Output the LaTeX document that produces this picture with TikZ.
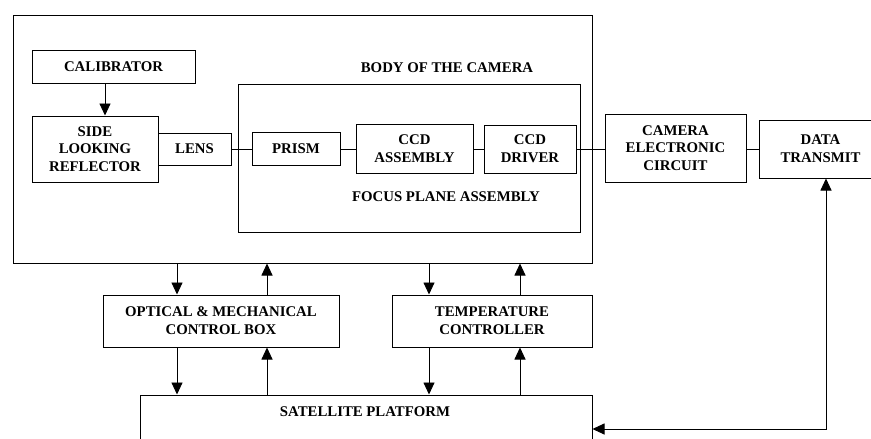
\documentclass[tikz,border=0pt]{standalone}
\usepackage{fontspec}
\setmainfont{Liberation Serif}
\usetikzlibrary{arrows.meta}
\begin{document}
\begin{tikzpicture}[x=1pt,y=-1pt,
  box/.style={draw,line width=1pt,rectangle,inner sep=0pt,align=center,
    font=\bfseries\fontsize{14.8}{17.8}\selectfont},
  lbl/.style={inner sep=0pt,font=\bfseries\fontsize{14.8}{17.8}\selectfont},
  conn/.style={line width=0.9pt},
  arr/.style={line width=0.9pt,-{Triangle[length=12pt,width=11pt]}},
  darr/.style={line width=0.9pt,{Triangle[length=12pt,width=11pt]}-{Triangle[length=12pt,width=11pt]}}]
\useasboundingbox (0,0) rectangle (871,439);
\clip (0,0) rectangle (871,439);
% outer boxes
\node[box,minimum width=579pt,minimum height=248pt] (body) at (302.5,139) {};
\node[lbl] (bodylbl) at (447,68) {BODY OF THE CAMERA};
\node[box,minimum width=342pt,minimum height=148pt] (focus) at (409,158) {};
\node[lbl] (focuslbl) at (446,197) {FOCUS PLANE ASSEMBLY};
% inner boxes
\node[box,minimum width=163pt,minimum height=33pt] (calib) at (113.5,66.5) {CALIBRATOR};
\node[box,minimum width=126pt,minimum height=66pt] (slr) at (95,149) {SIDE\\LOOKING\\REFLECTOR};
\node[box,minimum width=73pt,minimum height=32pt] (lens) at (194.5,149) {LENS};
\node[box,minimum width=88pt,minimum height=33pt] (prism) at (296,149) {PRISM};
\node[box,minimum width=117pt,minimum height=49pt] (ccda) at (414.5,149) {CCD\\ASSEMBLY};
\node[box,minimum width=92pt,minimum height=48pt] (ccdd) at (530,149) {CCD\\DRIVER};
\node[box,minimum width=141pt,minimum height=68pt] (cec) at (675.5,148) {CAMERA\\ELECTRONIC\\CIRCUIT};
\node[box,minimum width=122pt,minimum height=58pt,text width=112pt,anchor=west] (dt) at (759,149) {DATA\\TRANSMIT};
\node[box,minimum width=236pt,minimum height=52pt] (ocb) at (221,321) {OPTICAL \& MECHANICAL\\CONTROL BOX};
\node[box,minimum width=200pt,minimum height=52pt] (tc) at (492,321) {TEMPERATURE\\CONTROLLER};
\node[box,minimum width=452pt,minimum height=70pt] (sp) at (366,430) {};
\node[lbl] (splbl) at (365,412) {SATELLITE PLATFORM};
% connectors
\draw[arr] (calib.south -| 105,0) -- (slr.north -| 105,0);
\draw[conn] (lens.east) -- (prism.west);
\draw[conn] (prism.east) -- (ccda.west);
\draw[conn] (ccda.east) -- (ccdd.west);
\draw[conn] (ccdd.east) -- (ccdd.east -| cec.west);
\draw[conn] (cec.east |- dt.west) -- (dt.west);
% vertical arrows
\draw[arr] (body.south -| 177,0) -- (ocb.north -| 177,0);
\draw[arr] (ocb.north -| 267,0) -- (body.south -| 267,0);
\draw[arr] (ocb.south -| 177,0) -- (sp.north -| 177,0);
\draw[arr] (sp.north -| 267,0) -- (ocb.south -| 267,0);
\draw[arr] (body.south -| 429,0) -- (tc.north -| 429,0);
\draw[arr] (tc.north -| 520,0) -- (body.south -| 520,0);
\draw[arr] (tc.south -| 429,0) -- (sp.north -| 429,0);
\draw[arr] (sp.north -| 520,0) -- (tc.south -| 520,0);
\draw[darr] (dt.south -| 826,0) |- (sp.east |- 0,429);
\end{tikzpicture}
\end{document}
